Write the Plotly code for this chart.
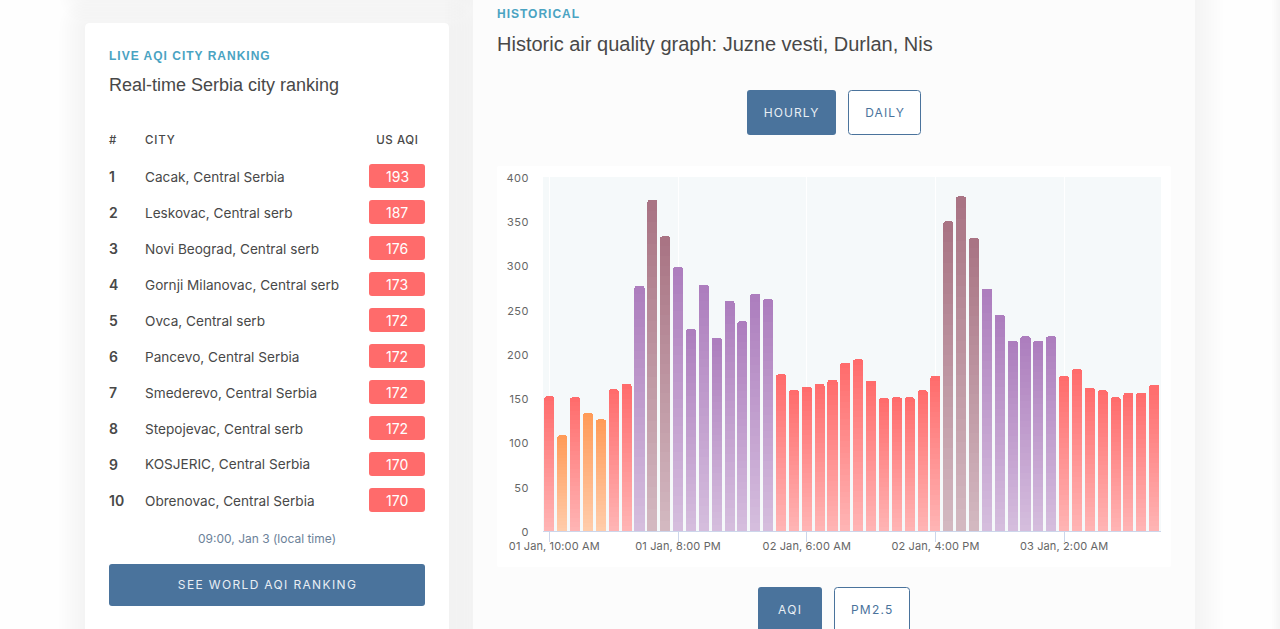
import json
import pandas as pd
import plotly.graph_objects as go

W = 1280
H = 629

# ranking table
ranks = ["1", "2", "3", "4", "5", "6", "7", "8", "9", "10"]
cities = ["Cacak, Central Serbia", "Leskovac, Central serb", "Novi Beograd, Central serb",
          "Gornji Milanovac, Central serb", "Ovca, Central serb", "Pancevo, Central Serbia",
          "Smederevo, Central Serbia", "Stepojevac, Central serb", "KOSJERIC, Central Serbia",
          "Obrenovac, Central Serbia"]
city_aqi = [193, 187, 176, 173, 172, 172, 172, 172, 170, 170]

# hourly chart
hours = pd.date_range("2024-01-01 10:00", periods=48, freq="h").strftime("%d %b, %-I:%M %p").tolist()
aqi = [152, 108, 151, 133, 126, 160, 166, 277, 374, 333, 298, 228, 278, 218, 260, 237,
       268, 262, 177, 159, 163, 166, 171, 190, 194, 170, 150, 151, 151, 159, 175, 350,
       378, 331, 274, 244, 215, 220, 215, 220, 175, 183, 162, 159, 151, 156, 156, 165]
y_ticks = [0, 50, 100, 150, 200, 250, 300, 350, 400]

BLUE = "#4a739c"
RED = "#ff6b6b"
TEAL = "#4aa3c2"
DARK = "#484848"
SLICES = 30


def fx(x):
    return x / W


def fy(y):
    return 1 - y / H


def bar_color(v):
    if v < 150:
        return (255, 154, 87)
    if v <= 200:
        return (255, 107, 107)
    if v <= 300:
        return (172, 125, 189)
    return (168, 115, 131)


def fade(rgb, t):
    # t=0 is the top of the bar, t=1 the bottom
    c = [round(a + (255 - a) * 0.5 * t) for a in rgb]
    return "rgb(%d,%d,%d)" % tuple(c)


def box(x0, y0, x1, y1, fill, r=4, line=None):
    path = (f"M{fx(x0 + r)},{fy(y0)} L{fx(x1 - r)},{fy(y0)} Q{fx(x1)},{fy(y0)} {fx(x1)},{fy(y0 + r)} "
            f"L{fx(x1)},{fy(y1 - r)} Q{fx(x1)},{fy(y1)} {fx(x1 - r)},{fy(y1)} "
            f"L{fx(x0 + r)},{fy(y1)} Q{fx(x0)},{fy(y1)} {fx(x0)},{fy(y1 - r)} "
            f"L{fx(x0)},{fy(y0 + r)} Q{fx(x0)},{fy(y0)} {fx(x0 + r)},{fy(y0)} Z")
    return dict(type="path", path=path, xref="paper", yref="paper", fillcolor=fill, layer="below",
                line=dict(color=line or "rgba(0,0,0,0)", width=1 if line else 0))


def shadow(x0, y0, x1, y1, spread=26, layers=10, alpha=0.005):
    out = []
    for i in range(layers, 0, -1):
        s = spread * i / layers
        out.append(box(x0 - s, y0 - s + 4, x1 + s, y1 + s + 4, f"rgba(0,0,0,{alpha})", r=4 + s))
    return out


spacing = {}


def label(x, y, text, size, color=DARK, font="Inter", anchor="left", ls=0, weight=400):
    if ls:
        spacing[text] = [ls, anchor == "left"]
    if anchor == "left":
        x -= 1  # annotation box has 1px of padding
    return dict(x=fx(x), y=fy(y), xref="paper", yref="paper", text=text, showarrow=False,
                xanchor=anchor, yanchor="middle", borderpad=0,
                font=dict(size=size, color=color, family=font, weight=weight))


shapes = []
shapes += shadow(85, -60, 449, -8, alpha=0.003)
shapes.append(box(85, -60, 449, -8, "#ffffff"))
shapes += shadow(85, 23, 449, 660, alpha=0.003)
shapes += shadow(473, -40, 1195, 680, spread=28, alpha=0.005)
shapes += shadow(1290, -40, 1500, 680, spread=18, alpha=0.008)
shapes.append(box(85, 23, 449, 660, "#ffffff", r=5))
shapes.append(box(473, -40, 1195, 680, "#fcfcfc", r=5))
shapes.append(box(497, 166, 1171, 567, "#ffffff", r=2))
shapes.append(box(543, 177, 1161, 531, "#f5f9fa", r=0))

# buttons
shapes.append(box(747, 90, 836, 135, BLUE, r=3))
shapes.append(box(848.5, 90.5, 920.5, 134.5, "#ffffff", r=3, line=BLUE))
shapes.append(box(758, 587, 822, 640, BLUE, r=3))
shapes.append(box(834.5, 587.5, 909.5, 640, "#ffffff", r=3, line=BLUE))
shapes.append(box(109, 564, 425, 606, BLUE, r=3))

notes = [
    label(109, 55.5, "LIVE AQI CITY RANKING", 12, TEAL, "Liberation Sans", ls=1, weight=700),
    label(109, 85, "Real-time Serbia city ranking", 18, DARK, "Liberation Sans"),
    label(109, 140, "#", 11.5, DARK, weight=500),
    label(145, 140, "CITY", 11.5, DARK, weight=500, ls=0.8),
    label(397, 140, "US AQI", 11.5, DARK, anchor="center", weight=500, ls=0.6),
    label(267, 538.5, "09:00, Jan 3 (local time)", 12, "#6c8299", anchor="center"),
    label(267, 584.5, "SEE WORLD AQI RANKING", 12, "#e8eef4", anchor="center", ls=1.35),
    label(497, 14, "HISTORICAL", 12, TEAL, "Liberation Sans", ls=1, weight=700),
    label(497, 44, "Historic air quality graph: Juzne vesti, Durlan, Nis", 20, DARK, "Liberation Sans"),
    label(791, 112.5, "HOURLY", 12, "#e8eef4", anchor="center", ls=1.1),
    label(884.5, 112.5, "DAILY", 12, BLUE, anchor="center", ls=1.1),
    label(790, 609, "AQI", 12, "#e8eef4", anchor="center", ls=1.3),
    label(872, 609, "PM2.5", 12, BLUE, anchor="center", ls=1.2),
]

for i, rank in enumerate(ranks):
    row = 177 + 36 * i
    shapes.append(box(369, row - 13, 425, row + 11, RED, r=3))
    notes.append(label(109, row - 0.5, rank, 14, DARK, weight=600))
    notes.append(label(145, row - 0.5, cities[i], 13.6, DARK))
    notes.append(label(397, row - 0.5, str(city_aqi[i]), 14, "#ffffff", anchor="center"))

fig = go.Figure()
for k in range(SLICES):
    # the site's bars have a vertical gradient, so each bar is a stack of thin slices
    t = 1 - (k + 0.5) / SLICES
    fig.add_trace(go.Bar(x=hours, y=[v / SLICES for v in aqi],
                         marker=dict(color=[fade(bar_color(v), t) for v in aqi], line=dict(width=0)),
                         hoverinfo="skip", showlegend=False))

tick_hours = hours[::10]
tick_text = list(tick_hours)
tick_text[0] = "\u00a0\u00a0\u00a0" + tick_text[0]

fig.update_layout(
    width=W, height=H, autosize=False,
    margin=dict(l=0, r=0, t=0, b=0),
    paper_bgcolor="#fefefe", plot_bgcolor="rgba(0,0,0,0)",
    barmode="stack", bargap=0.22, barcornerradius=2,
    shapes=shapes, annotations=notes,
    xaxis=dict(domain=[fx(543), fx(1161)], type="category", categoryorder="array", categoryarray=hours,
               range=[-0.5, 47.53], tickmode="array", tickvals=tick_hours, ticktext=tick_text,
               automargin=False, tickangle=0, ticks="outside", ticklen=10, tickcolor="#ccd6eb", tickwidth=1,
               ticklabelstandoff=-5, showline=True, linecolor="#ccd6eb", linewidth=1,
               showgrid=True, gridcolor="#ffffff", gridwidth=1, zeroline=False,
               tickfont=dict(family="Inter", size=11, color="#666666")),
    yaxis=dict(domain=[fy(531), fy(177)], range=[0, 400], tickmode="array", tickvals=y_ticks,
               automargin=False, ticks="", ticklabelstandoff=13, showgrid=False, zeroline=False, showline=False,
               tickfont=dict(family="Inter", size=11, color="#666666")),
)

post = """
var sp = %s;
document.body.style.margin = '0';
document.body.style.overflow = 'hidden';
document.querySelectorAll('.annotation-text').forEach(function (el) {
  var s = sp[el.textContent];
  if (!s) return;
  var w0 = el.getBBox().width;
  el.style.letterSpacing = s[0] + 'px';
  // text is anchored on its middle, so left aligned labels have to be moved back
  if (s[1]) el.setAttribute('x', parseFloat(el.getAttribute('x')) + (el.getBBox().width - w0) / 2);
});
document.querySelectorAll('.xtick text').forEach(function (el) {
  el.style.letterSpacing = '0.13px';
});
document.querySelectorAll('.ytick text').forEach(function (el) {
  el.style.letterSpacing = '0.5px';
  el.setAttribute('y', parseFloat(el.getAttribute('y')) + 1);
});
""" % json.dumps(spacing)

fig.write_html("out.html", post_script=post, config=dict(displayModeBar=False))
